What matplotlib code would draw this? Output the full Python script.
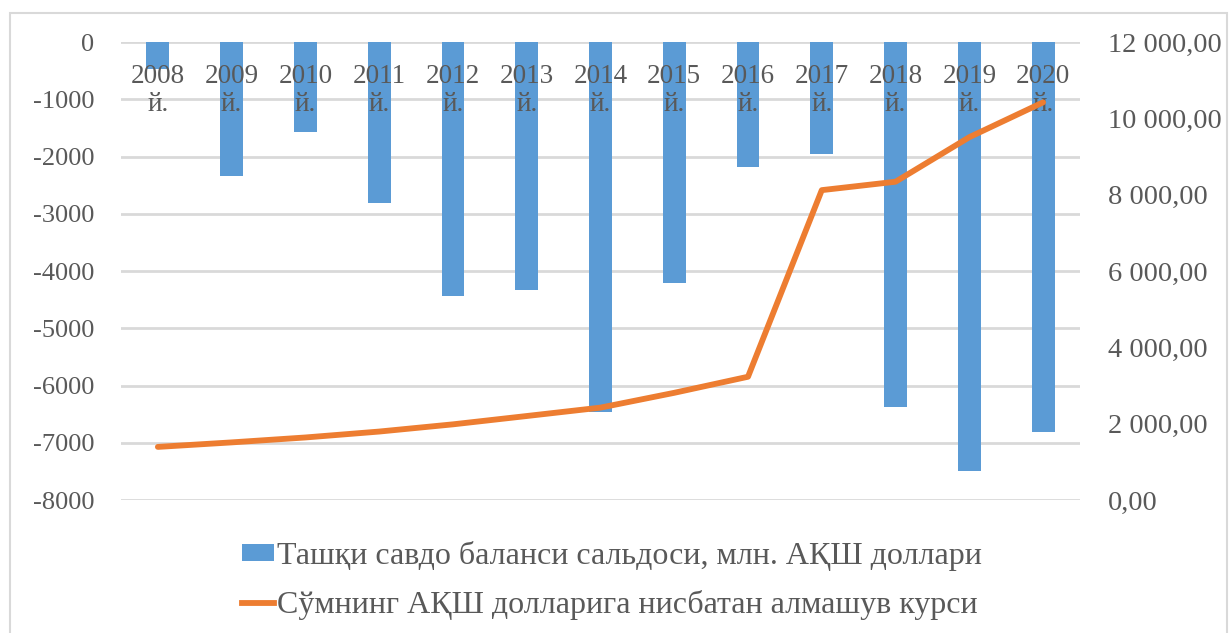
import matplotlib.pyplot as plt
from matplotlib.patches import Patch, Rectangle
from matplotlib.lines import Line2D
from matplotlib.ticker import FuncFormatter

years = ['2008', '2009', '2010', '2011', '2012', '2013', '2014',
         '2015', '2016', '2017', '2018', '2019', '2020']
saldo = [-470, -2340, -1565, -2805, -4440, -4335, -6460,
         -4210, -2175, -1950, -6370, -7490, -6810]
kurs = [1393, 1511, 1640, 1795, 1984, 2202, 2422,
        2810, 3231, 8120, 8340, 9507, 10420]

bar_label = 'Ташқи савдо баланси сальдоси, млн. АҚШ доллари'
line_label = 'Сўмнинг АҚШ долларига нисбатан алмашув курси'

plt.rcParams['font.family'] = ['Liberation Serif', 'DejaVu Serif']
plt.rcParams['axes.unicode_minus'] = False

text_color = '#595959'
grid_color = '#d9d9d9'
bar_color = '#5b9bd5'
line_color = '#ed7d31'


def money(v, pos):
    s = f'{v:,.2f}'
    return s.replace(',', ' ').replace('.', ',')


def main():
    fig = plt.figure(figsize=(12.32, 6.33), dpi=100)
    ax = fig.add_axes([0.0982, 0.21, 0.7784, 0.7236])

    # рамка вокруг диаграммы
    fig.patches.append(Rectangle((10 / 1232, -0.05), 1217 / 1232, 1.05 - 13 / 633,
                                 transform=fig.transFigure, fill=False,
                                 edgecolor=grid_color, linewidth=1.5))

    x = list(range(len(years)))
    ax.bar(x, saldo, width=0.31, color=bar_color, zorder=2)
    ax.set_xlim(-0.5, len(years) - 0.5)
    ax.set_ylim(-8000, 0)
    ax.set_yticks(range(-8000, 1, 1000))
    ax.yaxis.set_major_formatter(FuncFormatter(lambda v, p: f'{int(v)}'))
    ax.grid(axis='y', color=grid_color, linewidth=2)
    ax.set_axisbelow(True)
    for side in ['top', 'left', 'right', 'bottom']:
        ax.spines[side].set_visible(False)
    ax.set_xticks([])
    ax.tick_params(axis='y', length=0, pad=19, labelsize=19, labelcolor=text_color)

    # подписи годов под осью категорий, поверх столбиков
    for xi, year in zip(x, years):
        ax.annotate(year + '\nй.', (xi, 0), xytext=(0, -22),
                    textcoords='offset pixels', ha='center', va='top',
                    fontsize=19.5, color=text_color, linespacing=1.18,
                    zorder=4)

    ax2 = ax.twinx()
    ax2.plot(x, kurs, color=line_color, linewidth=4.2, solid_capstyle='round', zorder=3)
    ax2.set_ylim(0, 12000)
    ax2.set_yticks(range(0, 12001, 2000))
    ax2.yaxis.set_major_formatter(FuncFormatter(money))
    ax2.tick_params(axis='y', length=0, pad=20, labelsize=20.5, labelcolor=text_color)
    for side in ['top', 'left', 'right', 'bottom']:
        ax2.spines[side].set_visible(False)

    handles = [Patch(facecolor=bar_color, edgecolor='none'),
               Line2D([0], [0], color=line_color, linewidth=4.2)]
    fig.legend(handles, [bar_label, line_label], loc='center',
               bbox_to_anchor=(0.497, 0.083), frameon=False, fontsize=23,
               labelcolor=text_color, handlelength=1.0, handleheight=0.45,
               handletextpad=0.1, labelspacing=0.6)

    fig.savefig('out.png', dpi=100)


if __name__ == '__main__':
    main()
